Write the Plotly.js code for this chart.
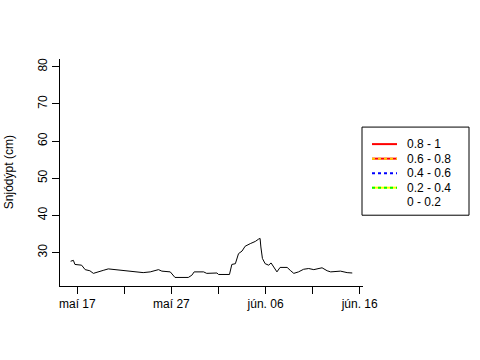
<!DOCTYPE html>
<html>
<head>
<meta charset="utf-8">
<script src="https://cdn.plot.ly/plotly-3.0.1.min.js"></script>
<style>html,body{margin:0;padding:0;background:#fff}#chart{width:480px;height:360px}</style>
</head>
<body>
<div id="chart"></div>
<script>
// Data
const times = [
  "2015-05-16 07:00","2015-05-16 14:00","2015-05-16 18:00","2015-05-17 11:00","2015-05-17 20:00",
  "2015-05-18 08:00","2015-05-18 17:00","2015-05-19 01:00","2015-05-19 18:00","2015-05-20 07:00",
  "2015-05-21 17:00","2015-05-22 23:00","2015-05-24 00:00","2015-05-24 18:00","2015-05-25 15:00",
  "2015-05-25 23:30","2015-05-26 21:00","2015-05-27 09:00","2015-05-28 19:00","2015-05-29 04:00",
  "2015-05-29 10:00","2015-05-30 10:00","2015-05-30 18:00","2015-05-31 20:00","2015-06-01 00:00",
  "2015-06-02 04:00","2015-06-02 10:00","2015-06-02 19:00","2015-06-03 03:00","2015-06-03 12:00",
  "2015-06-03 20:00","2015-06-04 09:00","2015-06-04 22:00","2015-06-05 06:00","2015-06-05 10:00",
  "2015-06-05 12:00","2015-06-05 16:00","2015-06-05 23:00","2015-06-06 08:00","2015-06-06 14:00",
  "2015-06-06 20:00","2015-06-07 05:00","2015-06-07 13:00","2015-06-08 07:00","2015-06-08 15:00",
  "2015-06-09 00:00","2015-06-09 12:00","2015-06-10 01:00","2015-06-10 14:00","2015-06-11 03:00",
  "2015-06-12 00:00","2015-06-12 13:00","2015-06-12 22:00","2015-06-13 23:00","2015-06-14 16:00",
  "2015-06-15 05:00"
];
const snowDepth = [
  27.66,27.9,26.8,26.6,25.4,
  25.1,24.4,24.7,25.2,25.6,
  25.2,24.8,24.6,24.8,25.4,
  25.0,24.8,23.3,23.3,23.9,
  24.8,24.8,24.4,24.5,24.1,
  24.1,26.8,27.0,29.7,30.4,
  31.7,32.4,33.0,33.6,33.8,
  31.5,28.4,27.0,26.6,27.2,
  26.1,24.8,26.0,26.0,25.2,
  24.4,24.8,25.5,25.7,25.4,
  25.9,25.1,24.8,25.0,24.6,
  24.5
];
const tickDates = ["2015-05-17","2015-05-22","2015-05-27","2015-06-01","2015-06-06","2015-06-11","2015-06-16"];
const tickLabels = ["maí 17","","maí 27","","jún. 06","","jún. 16"];
const yTicks = [30,40,50,60,70,80];
const yTitle = "Snjódýpt (cm)";
const legendLabels = ["0.8 - 1","0.6 - 0.8","0.4 - 0.6","0.2 - 0.4","0 - 0.2"];

// Layout geometry (pixels)
const L = 60, R = 363, T = 59, B = 285.7;
const W = 480, H = 360;
const xp = px => (px - L) / (R - L);
const yp = py => (B - py) / (B - T);
const FONT = "Liberation Sans, Arial, sans-serif";

const shapes = [];
const annotations = [];
// legend box
shapes.push({type:"rect", xref:"paper", yref:"paper", x0:xp(362), x1:xp(469), y0:yp(127), y1:yp(215),
  line:{color:"#000", width:1}, fillcolor:"rgba(0,0,0,0)"});
const legY = [144, 158.5, 173, 187.5, 202];
const legStyles = [
  [{color:"#ff0000", dash:"solid"}],
  [{color:"#ff0000", dash:"solid"},{color:"#ffcc00", dash:"dot"}],
  [{color:"#0000ff", dash:"dot"}],
  [{color:"#ffff00", dash:"solid"},{color:"#00ff00", dash:"dot"}],
  []
];
legendLabels.forEach((lab, i) => {
  legStyles[i].forEach(st => {
    shapes.push({type:"line", xref:"paper", yref:"paper", x0:xp(372), x1:xp(397), y0:yp(legY[i]), y1:yp(legY[i]),
      line:{color:st.color, width:2, dash:st.dash}});
  });
  annotations.push({xref:"paper", yref:"paper", x:xp(405), y:yp(legY[i]), xanchor:"left", yanchor:"middle",
    text:lab, showarrow:false, font:{family:FONT, size:12, color:"#000"}});
});
// y axis title
annotations.push({xref:"paper", yref:"paper", x:xp(9), y:yp(172), xanchor:"center", yanchor:"middle",
  text:yTitle, textangle:-90, showarrow:false, font:{family:FONT, size:12, color:"#000"}});

const trace = {x: times, y: snowDepth, type:"scatter", mode:"lines", line:{color:"#000", width:1}, hoverinfo:"skip"};

const layout = {
  width: W, height: H,
  margin:{l:L, r:W-R, t:T, b:H-B, pad:0},
  paper_bgcolor:"#fff", plot_bgcolor:"#fff",
  showlegend:false,
  font:{family:FONT, size:12, color:"#000"},
  xaxis:{type:"date", range:["2015-05-15 03:53","2015-06-16 08:25"], tickmode:"array", tickvals:tickDates, ticktext:tickLabels,
    showgrid:false, zeroline:false, showline:true, linecolor:"#000", linewidth:1,
    ticks:"outside", ticklen:7, tickcolor:"#000", tickwidth:1, tickfont:{family:FONT, size:12, color:"#000"}},
  yaxis:{range:[21.0, 82.07], tickmode:"array", tickvals:yTicks, ticktext:yTicks.map(String), tickangle:-90,
    showgrid:false, zeroline:false, showline:true, linecolor:"#000", linewidth:1,
    ticks:"outside", ticklen:7, tickcolor:"#000", tickwidth:1, tickfont:{family:FONT, size:12, color:"#000"}},
  shapes: shapes,
  annotations: annotations
};

Plotly.newPlot("chart", [trace], layout, {displayModeBar:false, staticPlot:true});
</script>
</body>
</html>
